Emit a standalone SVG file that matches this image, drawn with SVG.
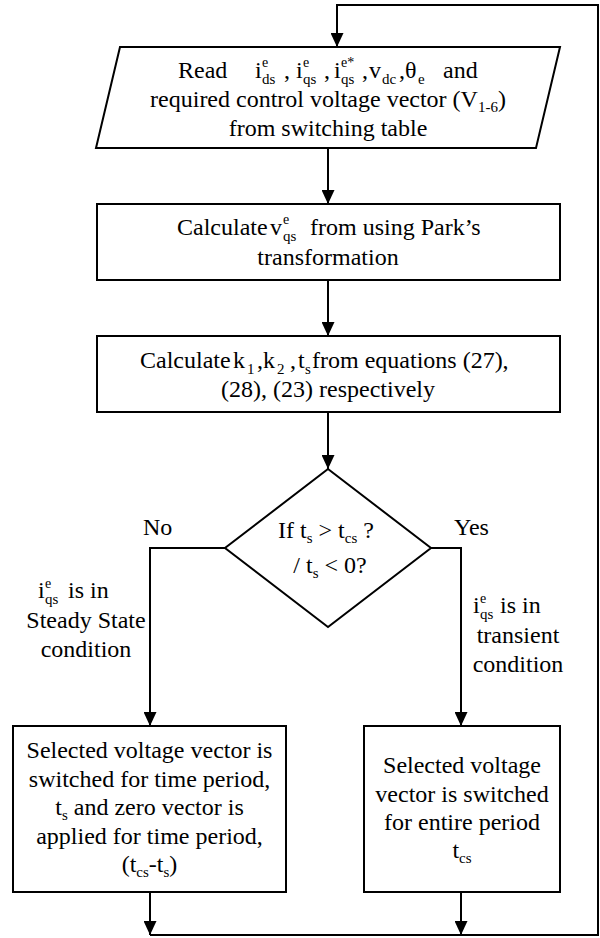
<svg xmlns="http://www.w3.org/2000/svg" width="600" height="938" viewBox="0 0 600 938">
<style>
.s{fill:#fff;stroke:#000;stroke-width:2}
.c{fill:none;stroke:#000;stroke-width:2}
text{font-family:Liberation Serif, DejaVu Serif, serif;font-size:24px;fill:#000}
.m{text-anchor:middle}
.sb{font-size:15px}
.sp{font-size:14px}
</style>
<defs>
<marker id="ah" markerUnits="userSpaceOnUse" markerWidth="14" markerHeight="13" refX="14" refY="6.5" orient="auto">
<path d="M0,0 L14,6.5 L0,13 z" fill="#000"/>
</marker>
</defs>
<g id="connectors">
<polyline class="c" points="150,935 598,935 598,5 337,5 337,47" marker-end="url(#ah)"/>
<line class="c" x1="328" y1="148" x2="328" y2="204" marker-end="url(#ah)"/>
<line class="c" x1="328" y1="280" x2="328" y2="336" marker-end="url(#ah)"/>
<line class="c" x1="328" y1="412" x2="328" y2="469" marker-end="url(#ah)"/>
<polyline class="c" points="225,548 150,548 150,726" marker-end="url(#ah)"/>
<polyline class="c" points="431,548 461,548 461,726" marker-end="url(#ah)"/>
<line class="c" x1="150" y1="892" x2="150" y2="935" marker-end="url(#ah)"/>
<line class="c" x1="461" y1="892" x2="461" y2="935" marker-end="url(#ah)"/>
</g>
<g id="read">
<polygon class="s" points="120,47 560,47 536,148 96,148"/>
<text y="78"><tspan x="178">Read</tspan><tspan x="255">i</tspan><tspan x="284">,</tspan><tspan x="296">i</tspan><tspan x="324">,</tspan><tspan x="334">i</tspan><tspan x="362">,</tspan><tspan x="369">v</tspan><tspan x="399">,</tspan><tspan x="405">θ</tspan><tspan x="443">and</tspan></text>
<text class="sp" y="67"><tspan x="262">e</tspan><tspan x="303">e</tspan><tspan x="341">e*</tspan></text>
<text class="sb" y="84"><tspan x="262">ds</tspan><tspan x="303">qs</tspan><tspan x="341">qs</tspan><tspan x="382">dc</tspan><tspan x="418">e</tspan></text>
<text class="m" x="328" y="107">required control voltage vector (V<tspan class="sb" dy="5">1-6</tspan><tspan dy="-5">)</tspan></text>
<text class="m" x="328" y="136">from switching table</text>
</g>
<g id="calc-v">
<rect class="s" x="97" y="204" width="463" height="76"/>
<text y="235"><tspan x="177">Calculate</tspan><tspan x="270">v</tspan><tspan x="310">from using Park’s</tspan></text>
<text class="sp" x="283" y="224">e</text>
<text class="sb" x="283" y="241">qs</text>
<text class="m" x="328" y="265">transformation</text>
</g>
<g id="calc-k">
<rect class="s" x="97" y="336" width="463" height="76"/>
<text y="368"><tspan x="140">Calculate</tspan><tspan x="233">k</tspan><tspan x="257">,</tspan><tspan x="263">k</tspan><tspan x="290">,</tspan><tspan x="298">t</tspan><tspan x="312">from  equations (27),</tspan></text>
<text class="sb" y="374"><tspan x="247">1</tspan><tspan x="277">2</tspan><tspan x="305">s</tspan></text>
<text class="m" x="328" y="397">(28), (23) respectively</text>
</g>
<g id="decision">
<polygon class="s" points="328,469 431,548 328,627 225,548"/>
<text class="m" x="326" y="538">If t<tspan class="sb" dy="5">s</tspan><tspan dy="-5"> &gt; t</tspan><tspan class="sb" dy="5">cs</tspan><tspan dy="-5"> ?</tspan></text>
<text class="m" x="330" y="573">/ t<tspan class="sb" dy="5">s</tspan><tspan dy="-5"> &lt; 0?</tspan></text>
</g>
<g id="labels">
<text x="143" y="535">No</text>
<text x="454" y="535">Yes</text>
<text y="598"><tspan x="38">i</tspan><tspan x="68">is in</tspan></text>
<text class="sp" x="45" y="588">e</text>
<text class="sb" x="45" y="604">qs</text>
<text class="m" x="86" y="628">Steady State</text>
<text class="m" x="86" y="657">condition</text>
<text y="613"><tspan x="473">i</tspan><tspan x="500">is in</tspan></text>
<text class="sp" x="480" y="603">e</text>
<text class="sb" x="480" y="619">qs</text>
<text class="m" x="518" y="643">transient</text>
<text class="m" x="518" y="672">condition</text>
</g>
<g id="steady">
<rect class="s" x="13" y="726" width="273" height="166"/>
<text class="m" x="149.5" y="758">Selected voltage vector is</text>
<text class="m" x="149.5" y="786.5">switched for time period,</text>
<text class="m" x="149.5" y="815">t<tspan class="sb" dy="5">s</tspan><tspan dy="-5"> and zero vector is</tspan></text>
<text class="m" x="149.5" y="843.5">applied for time period,</text>
<text class="m" x="149.5" y="872">(t<tspan class="sb" dy="5">cs</tspan><tspan dy="-5">-t</tspan><tspan class="sb" dy="5">s</tspan><tspan dy="-5">)</tspan></text>
</g>
<g id="transient">
<rect class="s" x="364" y="726" width="196" height="166"/>
<text class="m" x="462" y="773">Selected voltage</text>
<text class="m" x="462" y="801.5">vector is switched</text>
<text class="m" x="462" y="830">for entire period</text>
<text class="m" x="462" y="858">t<tspan class="sb" dy="5">cs</tspan></text>
</g>
</svg>
